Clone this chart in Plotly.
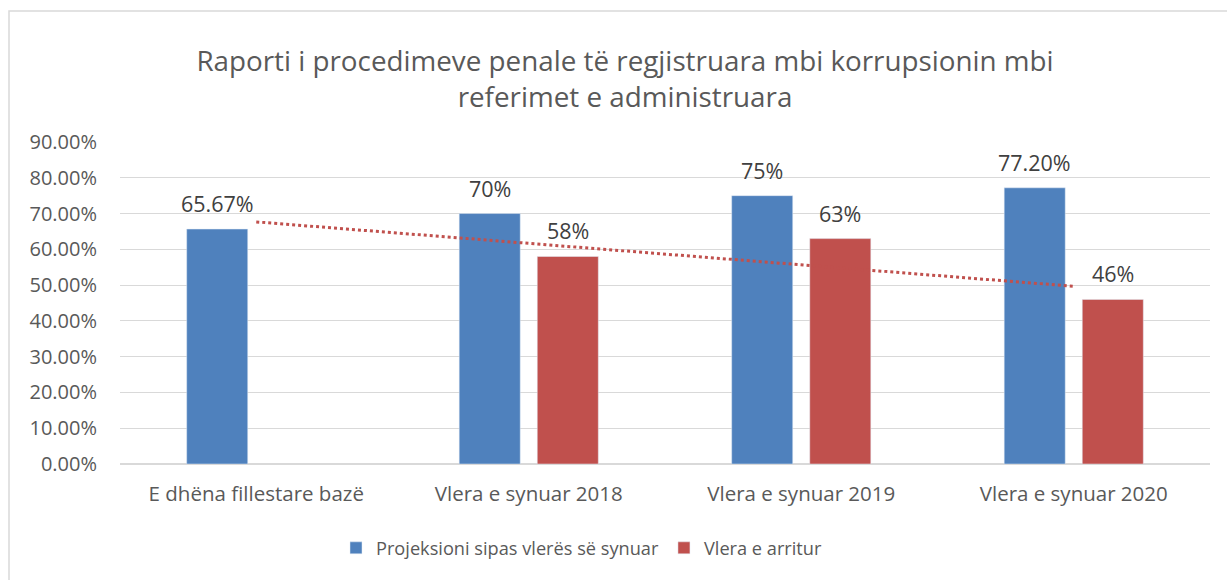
import numpy as np
import plotly.graph_objects as go

categories = ["E dhëna fillestare bazë", "Vlera e synuar 2018", "Vlera e synuar 2019", "Vlera e synuar 2020"]
projected = [65.67, 70, 75, 77.20]
projected_labels = ["65.67%", "70%", "75%", "77.20%"]
achieved = [None, 58, 63, 46]
achieved_labels = ["", "58%", "63%", "46%"]
series_names = ["Projeksioni sipas vlerës së synuar", "Vlera e arritur"]
y_ticks = [0, 10, 20, 30, 40, 50, 60, 70, 80, 90]
y_tick_labels = [f"{v:.2f}%" for v in y_ticks]

BLUE = "#4F81BD"
RED = "#C0504D"
FONT = "'Open Sans', sans-serif"

# linear trendline of achieved values (Excel-style), extended across all categories
xs = np.array([i for i, v in enumerate(achieved) if v is not None], dtype=float)
ys = np.array([v for v in achieved if v is not None], dtype=float)
slope, intercept = np.polyfit(xs, ys, 1)
trend = [slope * i + intercept for i in range(len(categories))]

L, R, T, B = 120, 17, 142, 116
W, H = 1227, 580
pw, ph = W - L - R, H - T - B
BARGAP = 0.427
cat_px = pw / len(categories)
slot_px = cat_px * (1 - BARGAP) / 2
off = slot_px / 2

fig = go.Figure()
fig.add_trace(go.Bar(x=categories, y=projected, name=series_names[0], marker_color=BLUE))
fig.add_trace(go.Bar(x=categories, y=achieved, name=series_names[1], marker_color=RED))
fig.add_trace(go.Scatter(
    x=categories, y=trend, mode="lines", showlegend=False, hoverinfo="skip",
    line=dict(color=RED, width=3, dash="dot"),
))

annotations = []
for vals, labels, sh in ((projected, projected_labels, -off), (achieved, achieved_labels, off)):
    for c, v, t in zip(categories, vals, labels):
        if v is None:
            continue
        annotations.append(dict(
            x=c, y=v, xref="x", yref="y", text=t, showarrow=False,
            xshift=sh, yshift=9, yanchor="bottom", xanchor="center",
            font=dict(size=21.5, color="#404040", family=FONT),
        ))

fig.update_layout(
    width=W, height=H,
    margin=dict(l=L, r=R, t=T, b=B),
    paper_bgcolor="white", plot_bgcolor="white",
    font=dict(family=FONT, color="#595959", size=17),
    title=dict(
        text="Raporti i procedimeve penale të regjistruara mbi korrupsionin mbi<br>referimet e administruara",
        x=(625 - L) / pw, xref="paper", xanchor="center",
        y=1 - 71 / H, yanchor="middle",
        font=dict(size=27.8, color="#595959", family=FONT),
    ),
    barmode="group", bargap=BARGAP, bargroupgap=0.218,
    xaxis=dict(
        showgrid=False, showline=False, ticks="", zeroline=False,
        tickfont=dict(size=20.5, color="#595959"), ticklabelstandoff=15,
    ),
    yaxis=dict(
        range=[0, 90], tickvals=y_ticks, ticktext=y_tick_labels,
        showgrid=True, gridcolor="#D9D9D9", gridwidth=1.3,
        zeroline=True, zerolinecolor="#D9D9D9", zerolinewidth=1.5,
        showline=False, ticks="", ticklen=0,
        tickfont=dict(size=20, color="#595959"), ticklabelstandoff=22,
    ),
    legend=dict(
        orientation="h", x=(582 - L) / pw, xanchor="center",
        y=-(548 - (T + ph)) / ph, yanchor="middle",
        font=dict(size=18.2, color="#595959"),
        traceorder="normal",
    ),
    showlegend=True,
    annotations=annotations,
    shapes=[dict(
        type="rect", xref="paper", yref="paper",
        x0=(9 - L) / pw, x1=(W + 20 - L) / pw,
        y0=-(H + 20 - (T + ph)) / ph, y1=((T + ph) - 11) / ph,
        line=dict(color="#D9D9D9", width=1.5), layer="below",
    )],
)

fig.write_html(
    "out.html",
    config={"displayModeBar": False},
    post_script="document.body.style.margin='0';document.body.style.overflow='hidden';",
)
